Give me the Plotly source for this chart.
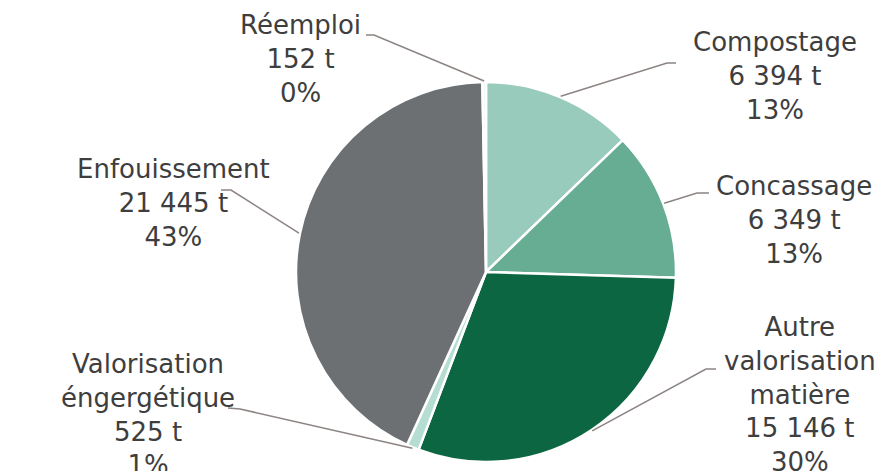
import math
import plotly.graph_objects as go

# ---- data ----
categories = ["Compostage", "Concassage", "Autre valorisation matière",
              "Valorisation éngergétique", "Enfouissement", "Réemploi"]
values = [6394, 6349, 15146, 525, 21445, 152]
label_texts = [
    "Compostage<br>6 394 t<br>13%",
    "Concassage<br>6 349 t<br>13%",
    "Autre<br>valorisation<br>matière<br>15 146 t<br>30%",
    "Valorisation<br>éngergétique<br>525 t<br>1%",
    "Enfouissement<br>21 445 t<br>43%",
    "Réemploi<br>152 t<br>0%",
]
colors = ["#99cbbd", "#67ad94", "#0b6641", "#b5ddd2", "#6d7072", "#eef6f3"]

# ---- layout (screen pixels; page body has an 8px margin) ----
W, H = 884, 471
OFF = 8
CX, CY, R = 486, 272, 190
label_pos = [(775, 76), (794, 220), (800, 394), (148, 414), (173, 203), (300, 59)]
elbows = [((667, 63), (676, 63)), ((697, 193), (709, 193)), ((706, 369), (716, 369)),
          ((240, 409), (228, 408)), ((231, 190), (221, 190)), ((374, 35), (366, 35))]

def px(x):
    return (x - OFF) / W

def py(y):
    return 1 - (y - OFF) / H

fig = go.Figure(go.Pie(
    labels=categories, values=values, sort=False, direction="clockwise",
    rotation=0, textinfo="none", hoverinfo="label+value+percent",
    marker=dict(colors=colors, line=dict(color="white", width=2.5)),
    domain=dict(x=[px(CX - R), px(CX + R)], y=[py(CY + R), py(CY - R)]),
    showlegend=False,
))

total = sum(values)
cum = 0
shapes = []
annotations = []
for i, v in enumerate(values):
    mid = (cum + v / 2) / total
    cum += v
    ang = 2 * math.pi * mid
    ex = CX + (R + 1) * math.sin(ang)
    ey = CY - (R + 1) * math.cos(ang)
    (bx, by), (tx, ty) = elbows[i]
    path = f"M {px(ex)} {py(ey)} L {px(bx)} {py(by)} L {px(tx)} {py(ty)}"
    shapes.append(dict(type="path", xref="paper", yref="paper", path=path,
                       line=dict(color="#8c8482", width=1.5)))
    lx, ly = label_pos[i]
    annotations.append(dict(x=px(lx), y=py(ly), xref="paper", yref="paper",
                            text=label_texts[i], showarrow=False, align="center",
                            xanchor="center", yanchor="middle",
                            font=dict(family="DejaVu Sans", size=26, color="#3e3e3e")))

fig.update_layout(width=W, height=H, margin=dict(l=0, r=0, t=0, b=0),
                  paper_bgcolor="white", plot_bgcolor="white",
                  shapes=shapes, annotations=annotations)
fig.write_html("out.html")
